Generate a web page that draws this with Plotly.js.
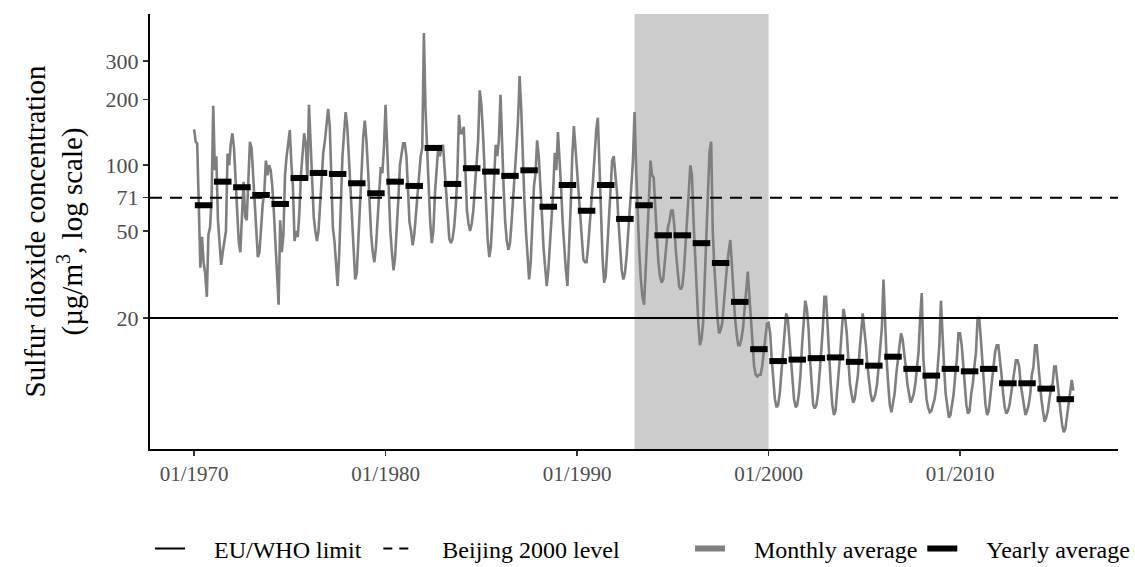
<!DOCTYPE html>
<html>
<head>
<meta charset="utf-8">
<script src="https://cdn.plot.ly/plotly-3.0.1.min.js"></script>
<style>
  html, body { margin: 0; padding: 0; background: #fff; }
  #chart { width: 1135px; height: 567px; }
</style>
</head>
<body>
<div id="chart"></div>
<script>
// ---- data ----
const firstYear = 1970;
const lastYear = 2015;

// Yearly average SO2 (µg/m3)
const yearly = [
  65.6, 84.1, 79.3, 73.1, 66.5, 87.4, 92.2, 91.2, 82.7, 74.4,
  84.1, 80.4, 120, 82.1, 96.9, 93.5, 89.4, 94.8, 64.6, 81.2,
  61.9, 81.2, 56.8, 65.6, 47.8, 47.8, 44.0, 35.7, 23.7, 14.4,
  12.7, 12.9, 13.1, 13.2, 12.6, 12.1, 13.3, 11.7, 10.9, 11.7,
  11.4, 11.7, 10.05, 10.05, 9.5, 8.5
];

// Monthly averages, one row per year (Jan..Dec)
const monthly = [
  [146,128,126,60,34,47,36,32,25,48,52,70],
  [187,95,110,56,44,35,40,46,50,113,100,125],
  [140,120,85,56,45,40,60,84,58,56,85,128],
  [120,90,68,48,38,40,52,66,75,105,90,100],
  [95,80,62,45,30,23,56,40,48,90,110,130],
  [145,100,80,45,50,47,60,90,110,140,125,85],
  [189,120,78,58,50,45,50,65,85,115,130,150],
  [181,150,95,52,45,35,28,40,65,110,141,175],
  [150,110,80,55,42,30,32,45,70,100,135,160],
  [130,95,68,48,40,36,42,58,78,98,92,120],
  [189,120,75,50,40,33,38,50,70,100,115,126],
  [126,110,80,55,50,43,48,60,70,95,110,120],
  [403,180,120,70,55,44,50,75,100,120,110,120],
  [124,95,70,55,46,44,46,52,65,90,170,140],
  [140,150,90,62,54,50,54,62,80,100,130,220],
  [190,140,95,62,46,38,42,58,85,124,110,130],
  [210,120,80,55,45,41,44,55,70,90,120,160],
  [256,180,110,70,50,36,30,36,60,80,92,130],
  [110,85,60,42,33,28,33,42,55,75,114,95],
  [142,110,80,55,42,33,28,40,65,110,151,120],
  [95,75,58,44,37,36,36,43,52,68,85,115],
  [145,165,105,58,38,29,31,42,60,85,105,110],
  [90,75,55,42,33,30,32,38,48,58,80,105],
  [175,95,58,40,30,25,23,32,48,68,105,90],
  [88,68,48,36,31,29,30,36,43,52,56,62],
  [62,52,40,32,28,27,28,33,42,58,75,100],
  [90,55,38,26,19,15,16,19,30,48,75,115],
  [128,50,35,25,20,17,17.6,19,24,30,35,40],
  [45.5,35,25,20,17,15,15,16,18,22,28,32.6],
  [25,20,15,12,11,10.8,11,11,12,14,16,18.8],
  [19,17,13,10,8.5,7.8,8,9,11,14,17,21],
  [20,16,13,10,8.5,7.8,8,9,11,15,19,24],
  [22,18,13,10,8,7.7,8,9,11,14,18,25],
  [25,18,13,10,8,7.2,7.5,9,11,14,18,22],
  [20,17,13,10,9,8.2,8.5,9.5,11,14,17,21],
  [17.6,15,12,10,9,8.3,8.5,9,10,12,15,18],
  [30,18,13,10,8,7.4,8,9,11,13,14.7,17],
  [16,14,12,10,9,8.2,8.5,9,10,12,14,20],
  [26,13,10,8.5,7.8,7.4,7.5,8,8.5,9.5,12,15],
  [24,16,12,9,8,7,7.2,8,9,11,13,17],
  [17,15,12,10,8,7.3,7.5,9,10,12,14,20],
  [20,16,12,10,8,7.2,7.5,9,10,12,14,15],
  [15,13,11,9,7.8,7.3,7.5,8,9,10,11,12.8],
  [12.8,12,10,9,8,7.2,7.5,8,9,11,12,15],
  [15,12,10,8.5,7.5,6.7,7,7.5,8.5,9.5,10,12],
  [12,10,9,7.5,6.5,6,6.2,7,8,9,10.4,9.3]
];

const euWhoLimit = 20;
const beijing2000 = 71;
const shadeStart = '1993-01-01';
const shadeEnd = '2000-01-01';

const yTickVals = [20, 50, 71, 100, 200, 300];
const yTickText = ['20', '50', '71', '100', '200', '300'];

const legendNames = ['EU/WHO limit', 'Beijing 2000 level', 'Monthly average', 'Yearly average'];

// ---- build traces ----
const pad = n => (n < 10 ? '0' + n : '' + n);
const mX = [], mY = [];
monthly.forEach((row, i) => {
  const yr = firstYear + i;
  row.forEach((v, m) => { mX.push(yr + '-' + pad(m + 1) + '-01'); mY.push(v); });
});

const yX = [], yY = [];
yearly.forEach((v, i) => {
  const yr = firstYear + i;
  yX.push(yr + '-01-15', yr + '-12-15', null);
  yY.push(v, v, null);
});

const FONT = 'Liberation Serif, Times New Roman, serif';
const GAP = '\u00a0\u00a0\u00a0\u00a0';
const TAIL = '\u00a0\u00a0';

const traces = [
  { x: mX, y: mY, type: 'scatter', mode: 'lines', showlegend: false,
    line: { color: '#7f7f7f', width: 2.6 }, hoverinfo: 'skip' },
  { x: yX, y: yY, type: 'scatter', mode: 'lines', showlegend: false,
    line: { color: '#000000', width: 6 }, hoverinfo: 'skip' },
  // legend entries
  { x: [null], y: [null], type: 'scatter', mode: 'lines', name: GAP + legendNames[0] + TAIL,
    line: { color: '#000', width: 2 }, legend: 'legend' },
  { x: [null], y: [null], type: 'scatter', mode: 'lines', name: GAP + legendNames[1],
    line: { color: '#000', width: 2, dash: '9px,7px' }, legend: 'legend' },
  { x: [null], y: [null], type: 'scatter', mode: 'lines', name: GAP + legendNames[2],
    line: { color: '#7f7f7f', width: 6 }, legend: 'legend2' },
  { x: [null], y: [null], type: 'scatter', mode: 'lines', name: GAP + legendNames[3],
    line: { color: '#000', width: 6 }, legend: 'legend2' }
];

const layout = {
  width: 1135, height: 567,
  margin: { l: 150, r: 17, t: 14, b: 118, autoexpand: false },
  paper_bgcolor: '#fff', plot_bgcolor: '#fff',
  font: { family: FONT, color: '#000' },
  showlegend: true,
  xaxis: {
    type: 'date',
    range: ['1967-09-13', '2018-04-01'],
    tick0: '1970-01-01', dtick: 'M120', tickformat: '%m/%Y',
    showgrid: false, zeroline: false,
    showline: true, linecolor: '#000', linewidth: 2,
    ticks: 'outside', ticklen: 5, tickwidth: 1.5, tickcolor: '#333',
    tickfont: { family: FONT, size: 21, color: '#4d4d4d' }
  },
  yaxis: {
    type: 'log',
    range: [0.7015, 2.692],
    tickvals: yTickVals, ticktext: yTickText,
    showgrid: false, zeroline: false,
    showline: true, linecolor: '#000', linewidth: 2,
    ticks: 'outside', ticklen: 5, tickwidth: 1.5, tickcolor: '#333',
    tickfont: { family: FONT, size: 22, color: '#4d4d4d' },
    title: { text: 'Sulfur dioxide concentration<br>(µg/m<sup>3</sup>, log scale)',
             font: { family: FONT, size: 29, color: '#000' }, standoff: 14 }
  },
  shapes: [
    { type: 'rect', xref: 'x', yref: 'paper', x0: shadeStart, x1: shadeEnd, y0: 0, y1: 1,
      fillcolor: '#cccccc', line: { width: 0 }, layer: 'below' },
    { type: 'line', xref: 'paper', yref: 'y', x0: 0, x1: 1, y0: euWhoLimit, y1: euWhoLimit,
      line: { color: '#000', width: 2 }, layer: 'above' },
    { type: 'line', xref: 'paper', yref: 'y', x0: 0, x1: 1, y0: beijing2000, y1: beijing2000,
      line: { color: '#000', width: 2, dash: '12px,8px' }, layer: 'above' }
  ],
  legend: {
    orientation: 'h', xref: 'container', x: 150 / 1135, xanchor: 'left',
    yref: 'container', y: 18 / 567, yanchor: 'middle',
    font: { family: FONT, size: 24, color: '#000' }, bgcolor: 'rgba(0,0,0,0)',
    itemwidth: 30
  },
  legend2: {
    orientation: 'h', xref: 'container', x: 690 / 1135, xanchor: 'left',
    yref: 'container', y: 18 / 567, yanchor: 'middle',
    font: { family: FONT, size: 24, color: '#000' }, bgcolor: 'rgba(0,0,0,0)',
    itemwidth: 30
  }
};

Plotly.newPlot('chart', traces, layout, { displayModeBar: false, staticPlot: true });
</script>
</body>
</html>
